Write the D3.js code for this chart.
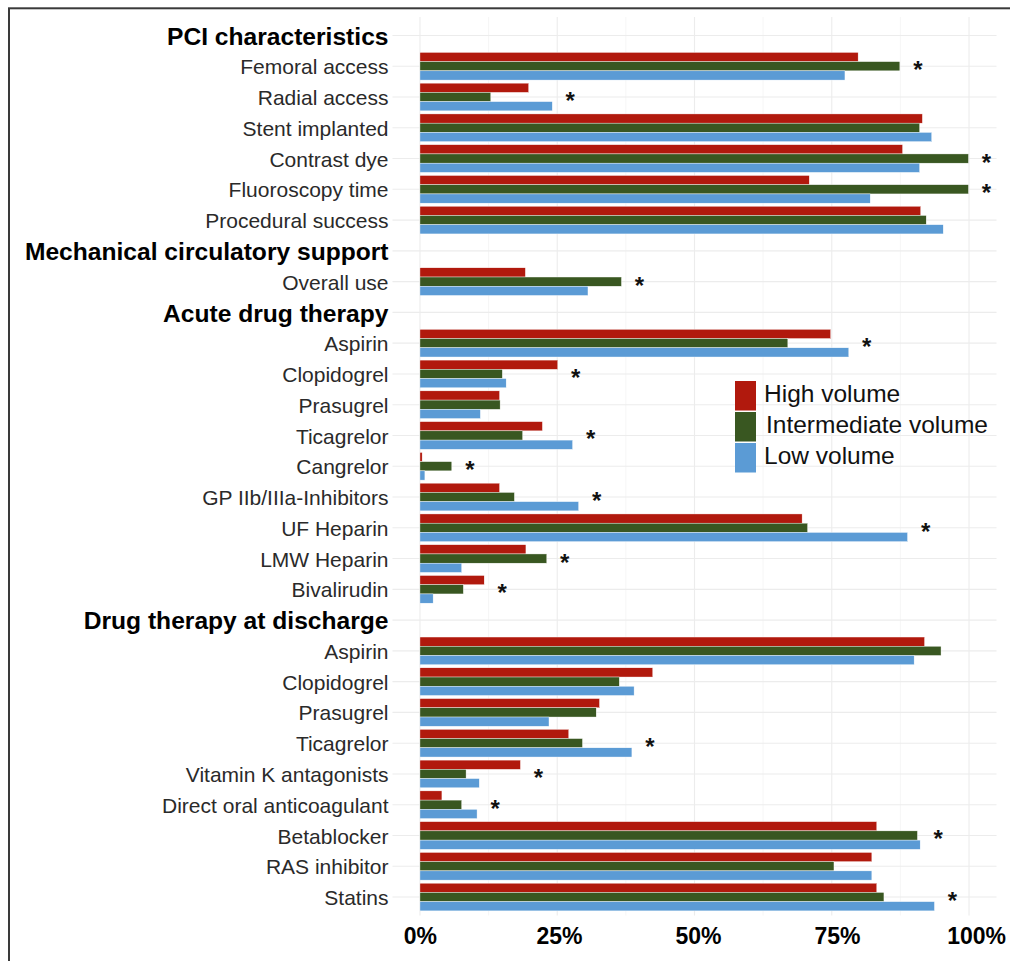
<!DOCTYPE html>
<html>
<head>
<meta charset="utf-8">
<script src="https://cdn.jsdelivr.net/npm/d3@7"></script>
<style>
  body { margin: 0; background: #fff; }
  svg { display: block; font-family: "Liberation Sans", Arial, Helvetica, sans-serif; }
</style>
</head>
<body>
<div id="graphic"></div>
<script>
// rows top to bottom; headers have no bars
var rows = ["PCI characteristics", "Femoral access", "Radial access", "Stent implanted", "Contrast dye",
    "Fluoroscopy time", "Procedural success", "Mechanical circulatory support", "Overall use",
    "Acute drug therapy", "Aspirin", "Clopidogrel", "Prasugrel", "Ticagrelor", "Cangrelor",
    "GP IIb/IIIa-Inhibitors", "UF Heparin", "LMW Heparin", "Bivalirudin",
    "Drug therapy at discharge", "Aspirin", "Clopidogrel", "Prasugrel", "Ticagrelor",
    "Vitamin K antagonists", "Direct oral anticoagulant", "Betablocker", "RAS inhibitor", "Statins"];
var headers = ["PCI characteristics", "Mechanical circulatory support", "Acute drug therapy", "Drug therapy at discharge"];

// percent values, null for header rows
var highVol = [null, 79.8, 19.8, 91.5, 87.9, 70.9, 91.2, null, 19.2,
    null, 74.8, 25.1, 14.5, 22.3, 0.4, 14.5, 69.6, 19.3, 11.7,
    null, 91.9, 42.4, 32.7, 27.1, 18.3, 4.0, 83.2, 82.3, 83.2];
var intermVol = [null, 87.4, 12.9, 91.0, 99.9, 99.9, 92.2, null, 36.7,
    null, 67.0, 15.0, 14.6, 18.7, 5.8, 17.2, 70.6, 23.1, 7.9,
    null, 94.9, 36.3, 32.1, 29.6, 8.4, 7.6, 90.6, 75.4, 84.5];
var lowVol = [null, 77.4, 24.1, 93.2, 91.0, 82.0, 95.3, null, 30.6,
    null, 78.1, 15.7, 11.0, 27.8, 0.9, 28.9, 88.8, 7.6, 2.4,
    null, 90.0, 39.0, 23.5, 38.6, 10.8, 10.4, 91.1, 82.3, 93.7];
// significance marks
var signif = [0, 1, 1, 0, 1, 1, 0, 0, 1,
    0, 1, 1, 0, 1, 1, 1, 1, 1, 1,
    0, 0, 0, 0, 1, 1, 1, 1, 0, 1];

var seriesNames = ["High volume", "Intermediate volume", "Low volume"];
var seriesColors = ["#b1190d", "#395721", "#5b9bd5"];
var xTicks = [0, 0.25, 0.5, 0.75, 1];

var W = 1010, H = 961;
var panel = { left: 392.5, right: 996.5, top: 17, bottom: 915.5 };

var svg = d3.select("#graphic").append("svg")
    .attr("width", W)
    .attr("height", H);

svg.append("rect").attr("width", W).attr("height", H).attr("fill", "#fff");

// x scale with ggplot style 5% expansion
var x = d3.scaleLinear()
    .domain([-0.05, 1.05])
    .range([panel.left, panel.right]);

var keys = rows.map(function(d, i) { return "r" + i; });
var y = d3.scalePoint()
    .domain(keys)
    .range([panel.top, panel.bottom])
    .padding(0.6);

var step = y.step();
var dodge = d3.scaleBand()
    .domain(d3.range(3))
    .range([-0.45 * step, 0.45 * step]);

// grid
var grid = svg.append("g");
grid.selectAll(null)
    .data(d3.range(0, 1.0001, 0.125))
    .enter()
    .append("line")
    .attr("x1", function(d) { return x(d); })
    .attr("x2", function(d) { return x(d); })
    .attr("y1", panel.top)
    .attr("y2", panel.bottom)
    .attr("stroke", function(d, i) { return i % 2 ? "#f4f4f4" : "#ececec"; })
    .attr("stroke-width", function(d, i) { return i % 2 ? 0.8 : 1.1; });
grid.selectAll(null)
    .data(keys)
    .enter()
    .append("line")
    .attr("x1", panel.left)
    .attr("x2", panel.right)
    .attr("y1", function(d) { return y(d); })
    .attr("y2", function(d) { return y(d); })
    .attr("stroke", "#ececec")
    .attr("stroke-width", 1.1);

// bars
var series = [highVol, intermVol, lowVol];
series.forEach(function(vals, s) {
    svg.append("g").selectAll(null)
        .data(vals.map(function(v, i) { return { key: keys[i], v: v }; }).filter(function(d) { return d.v !== null; }))
        .enter()
        .append("rect")
        .attr("x", x(0))
        .attr("y", function(d) { return y(d.key) + dodge(s); })
        .attr("width", function(d) { return x(d.v / 100) - x(0); })
        .attr("height", dodge.bandwidth())
        .attr("fill", seriesColors[s])
        .attr("stroke", "#fff")
        .attr("stroke-width", 0.4);
});

// asterisks
svg.append("g").selectAll(null)
    .data(keys.filter(function(d, i) { return signif[i]; }))
    .enter()
    .append("text")
    .attr("x", function(d) {
        var i = keys.indexOf(d);
        return x(Math.max(highVol[i], intermVol[i], lowVol[i]) / 100) + 18;
    })
    .attr("y", function(d) { return y(d) + 12; })
    .attr("text-anchor", "middle")
    .attr("font-size", 24)
    .attr("font-weight", "bold")
    .attr("fill", "#111")
    .text("*");

// y axis
var yAxis = svg.append("g")
    .attr("transform", "translate(" + panel.left + ",0)")
    .call(d3.axisLeft(y).tickSize(0).tickPadding(4)
        .tickFormat(function(d) { return rows[keys.indexOf(d)]; }));
yAxis.select(".domain").remove();
yAxis.selectAll("text")
    .attr("dy", "0.36em")
    .attr("font-family", "Liberation Sans, Arial, sans-serif")
    .attr("font-size", function(d) { return headers.indexOf(rows[keys.indexOf(d)]) >= 0 ? 24.6 : 21; })
    .attr("font-weight", function(d) { return headers.indexOf(rows[keys.indexOf(d)]) >= 0 ? "bold" : "normal"; })
    .attr("fill", function(d) { return headers.indexOf(rows[keys.indexOf(d)]) >= 0 ? "#000" : "#2a2a2a"; });

// x axis
var xAxis = svg.append("g")
    .attr("transform", "translate(0," + panel.bottom + ")")
    .call(d3.axisBottom(x).tickValues(xTicks).tickSize(0).tickPadding(0)
        .tickFormat(d3.format(".0%")));
xAxis.select(".domain").remove();
xAxis.selectAll("text")
    .attr("x", function(d) { return d * 7; })
    .attr("y", 28)
    .attr("dy", 0)
    .attr("font-family", "Liberation Sans, Arial, sans-serif")
    .attr("font-size", 23)
    .attr("font-weight", "bold")
    .attr("fill", "#000");

// legend
var legend = svg.append("g").attr("transform", "translate(735,381)");
seriesNames.forEach(function(name, i) {
    legend.append("rect")
        .attr("x", 0)
        .attr("y", i * 31)
        .attr("width", 21)
        .attr("height", 29.5)
        .attr("fill", seriesColors[i]);
    legend.append("text")
        .attr("x", i == 1 ? 31 : 29)
        .attr("y", i * 31 + 21)
        .attr("font-size", 24.5)
        .attr("fill", "#111")
        .text(name);
});

// outer frame
svg.append("rect")
    .attr("x", 9)
    .attr("y", 8.3)
    .attr("width", W + 20)
    .attr("height", H + 20)
    .attr("fill", "none")
    .attr("stroke", "#3a3a3a")
    .attr("stroke-width", 2);
</script>
</body>
</html>
